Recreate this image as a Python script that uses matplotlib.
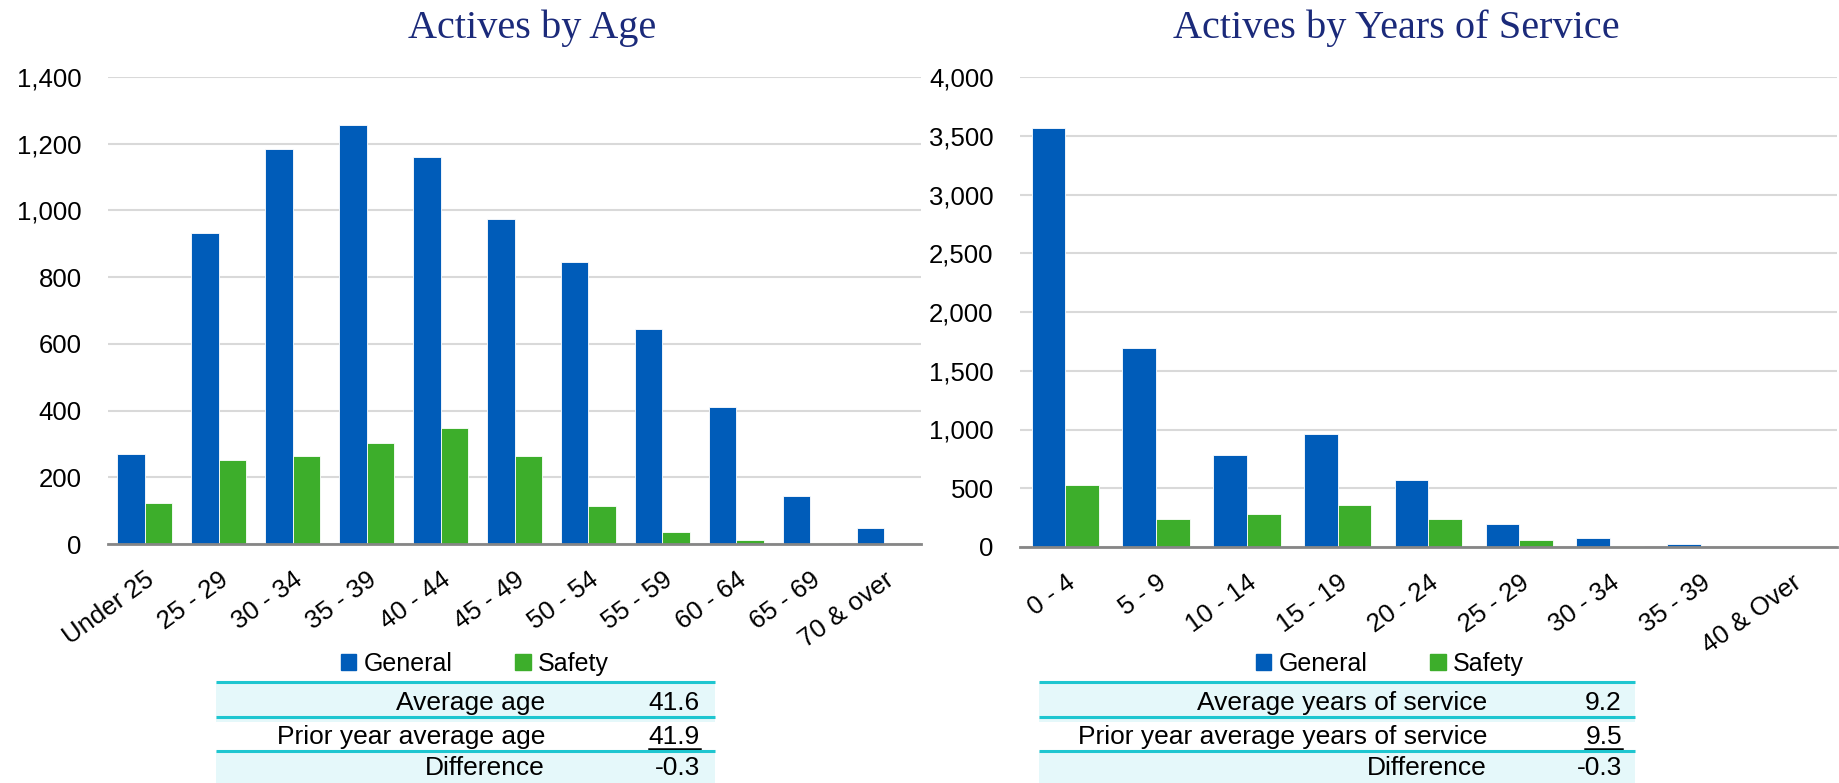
import matplotlib
matplotlib.use("Agg")
import matplotlib.pyplot as plt
import numpy as np
from matplotlib.patches import Rectangle
from matplotlib.ticker import FuncFormatter, MultipleLocator

plt.rcParams['font.family'] = ['Liberation Sans', 'DejaVu Sans']

# ---------------- data ----------------
age_categories = ["Under 25", "25 - 29", "30 - 34", "35 - 39", "40 - 44", "45 - 49",
                  "50 - 54", "55 - 59", "60 - 64", "65 - 69", "70 & over"]
age_general = [271, 932, 1185, 1256, 1161, 974, 844, 644, 412, 145, 47]
age_safety = [123, 253, 264, 302, 348, 264, 115, 35, 13, 2, 1]

svc_categories = ["0 - 4", "5 - 9", "10 - 14", "15 - 19", "20 - 24", "25 - 29",
                  "30 - 34", "35 - 39", "40 & Over"]
svc_general = [3570, 1690, 780, 960, 566, 200, 74, 26, 3]
svc_safety = [530, 240, 280, 360, 240, 60, 8, 1, 0]

series_names = ["General", "Safety"]
age_title = "Actives by Age"
svc_title = "Actives by Years of Service"

age_table_labels = ["Average age", "Prior year average age", "Difference"]
age_table_values = ["41.6", "41.9", "-0.3"]
svc_table_labels = ["Average years of service", "Prior year average years of service", "Difference"]
svc_table_values = ["9.2", "9.5", "-0.3"]

# ---------------- style ----------------
BLUE = "#005CB9"
GREEN = "#3DAE2B"
TITLE_C = "#1B2A7A"
GRID_C = "#D9D9D9"
TEAL = "#1EC6D0"
ROWFILL = "#E5F8FA"

W, H = 1839, 783
fig = plt.figure(figsize=(W / 100, H / 100), dpi=100)


def px_axes(x0, y0, x1, y1):
    return fig.add_axes([x0 / W, 1 - y1 / H, (x1 - x0) / W, (y1 - y0) / H])


def bar_chart(ax, cats, gen, saf, ymax, step):
    x = np.arange(len(cats))
    bw = 0.372
    ax.bar(x - bw / 2, gen, bw, color=BLUE, edgecolor="white", linewidth=0.6, zorder=3, label=series_names[0])
    ax.bar(x + bw / 2, saf, bw, color=GREEN, edgecolor="white", linewidth=0.6, zorder=3, label=series_names[1])
    ax.set_xlim(-0.5, len(cats) - 0.5)
    ax.set_ylim(0, ymax)
    ax.yaxis.set_major_locator(MultipleLocator(step))
    ax.yaxis.set_major_formatter(FuncFormatter(lambda v, p: f"{int(v):,}"))
    ax.grid(axis="y", color=GRID_C, linewidth=1.5, zorder=0)
    ax.set_axisbelow(True)
    for s in ["top", "right", "left"]:
        ax.spines[s].set_visible(False)
    ax.spines["bottom"].set_color("#868686")
    ax.spines["bottom"].set_linewidth(2)
    ax.spines["bottom"].set_zorder(4)
    ax.tick_params(axis="y", length=0, pad=19, labelsize=18.5)
    ax.tick_params(axis="x", length=0, pad=17, labelsize=18.5)
    ax.set_xticks(x)
    ax.set_xticklabels(cats, rotation=36, ha="right", va="top", rotation_mode="anchor")


ax1 = px_axes(108, 77, 921, 544)
bar_chart(ax1, age_categories, age_general, age_safety, 1400, 200)
ax2 = px_axes(1020, 77, 1837, 547)
bar_chart(ax2, svc_categories, svc_general, svc_safety, 4000, 500)

fig.text(532 / W, 1 - 28 / H, age_title, ha="center", va="center", fontsize=29,
         color=TITLE_C, family=["Liberation Serif", "DejaVu Serif"])
fig.text(1396 / W, 1 - 28 / H, svc_title, ha="center", va="center", fontsize=29,
         color=TITLE_C, family=["Liberation Serif", "DejaVu Serif"])

# legends
for cx in [475, 1390]:
    handles = [Rectangle((0, 0), 1, 1, color=BLUE), Rectangle((0, 0), 1, 1, color=GREEN)]
    fig.legend(handles, series_names, loc="center", bbox_to_anchor=(cx / W, 1 - 664 / H),
               ncol=2, frameon=False, fontsize=18, handlelength=0.62, handleheight=0.62,
               handletextpad=0.3, columnspacing=2.5, borderpad=0)

# tables
ov = fig.add_axes([0, 0, 1, 1], zorder=-1)
ov.set_xlim(0, W)
ov.set_ylim(H, 0)
ov.axis("off")
ov2 = fig.add_axes([0, 0, 1, 1], zorder=10)
ov2.set_xlim(0, W)
ov2.set_ylim(H, 0)
ov2.axis("off")
ov2.patch.set_alpha(0)

row_tops = [682, 717, 751]
row_baselines = [710, 744, 775]


def draw_table(x0, x1, lab_x, val_x, labels, values):
    for i, top in enumerate(row_tops):
        if i != 1:
            ov.add_patch(Rectangle((x0, top), x1 - x0, 40, facecolor=ROWFILL, edgecolor="none"))
        ov2.plot([x0, x1], [top, top], color=TEAL, linewidth=2.2, solid_capstyle="butt")
        yb = row_baselines[i]
        ov2.text(lab_x, yb, labels[i], ha="right", va="baseline", fontsize=19, color="black")
        t = ov2.text(val_x, yb, values[i], ha="right", va="baseline", fontsize=19, color="black")
        if i == 1:
            fig.canvas.draw()
            bb = t.get_window_extent()
            ov2.plot([bb.x0, bb.x1], [yb + 4.7, yb + 4.7], color="black", linewidth=1.8)


draw_table(216, 715, 545, 700, age_table_labels, age_table_values)
draw_table(1039, 1635, 1487, 1622, svc_table_labels, svc_table_values)

fig.savefig("out.png", dpi=100)
